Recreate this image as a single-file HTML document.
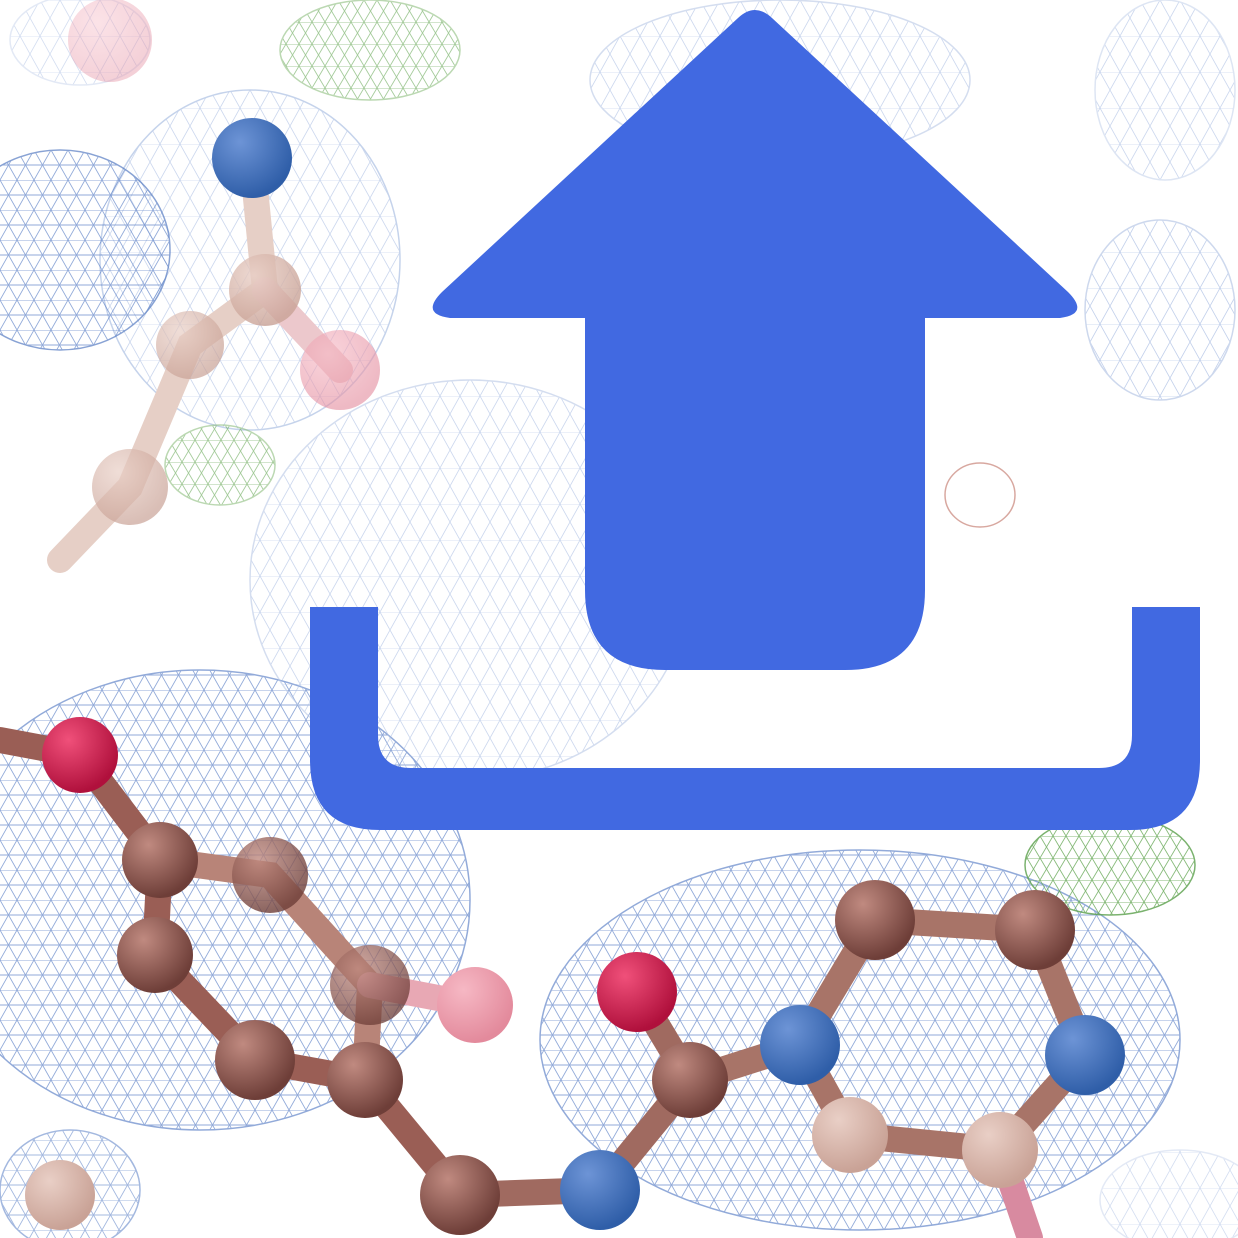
<!DOCTYPE html>
<html><head><meta charset="utf-8"><style>
html,body{margin:0;padding:0;background:#fff;}
svg{display:block;}
</style></head><body>
<svg width="1238" height="1238" viewBox="0 0 1238 1238">
<defs>
<pattern id="meshB" width="34" height="30" patternUnits="userSpaceOnUse">
 <path d="M0,0 L34,0 L17,30 Z M0,30 L17,0 M34,30 L17,0 M0,15 L34,15" fill="none" stroke="#4a73c0" stroke-width="0.9"/>
</pattern>
<pattern id="meshL" width="40" height="36" patternUnits="userSpaceOnUse">
 <path d="M0,0 L40,0 L20,36 Z M0,36 L20,0 M40,36 L20,0" fill="none" stroke="#a9bde3" stroke-width="0.8"/>
</pattern>
<pattern id="meshG" width="26" height="22" patternUnits="userSpaceOnUse">
 <path d="M0,0 L26,0 L13,22 Z M0,22 L13,0 M26,22 L13,0" fill="none" stroke="#6aaa5a" stroke-width="0.9"/>
</pattern>
<radialGradient id="gb" cx="35%" cy="30%" r="70%"><stop offset="0" stop-color="#c08a80"/><stop offset="1" stop-color="#6e3e38"/></radialGradient>
<radialGradient id="gbl" cx="35%" cy="30%" r="70%"><stop offset="0" stop-color="#e9cfc6"/><stop offset="1" stop-color="#c9a296"/></radialGradient>
<radialGradient id="gblue" cx="35%" cy="30%" r="70%"><stop offset="0" stop-color="#6d94d6"/><stop offset="1" stop-color="#2f5ea8"/></radialGradient>
<radialGradient id="gred" cx="35%" cy="30%" r="70%"><stop offset="0" stop-color="#f0507a"/><stop offset="1" stop-color="#b0103c"/></radialGradient>
<radialGradient id="gpink" cx="35%" cy="30%" r="70%"><stop offset="0" stop-color="#f6b8c4"/><stop offset="1" stop-color="#e38a9c"/></radialGradient>
</defs>
<g stroke-width="1.5">
 <ellipse cx="250" cy="260" rx="150" ry="170" fill="url(#meshL)" stroke="#9fb6df" opacity=".6"/>
 <ellipse cx="60" cy="250" rx="110" ry="100" fill="url(#meshB)" stroke="#3a66b8" opacity=".6"/>
 <ellipse cx="200" cy="900" rx="270" ry="230" fill="url(#meshB)" stroke="#4a73c0" opacity=".6"/>
 <ellipse cx="860" cy="1040" rx="320" ry="190" fill="url(#meshB)" stroke="#4a73c0" opacity=".6"/>
 <ellipse cx="470" cy="580" rx="220" ry="200" fill="url(#meshL)" stroke="#b8c8e6" opacity=".6"/>
 <ellipse cx="1160" cy="310" rx="75" ry="90" fill="url(#meshL)" stroke="#b8c8e6" opacity=".7"/>
 <ellipse cx="1165" cy="90" rx="70" ry="90" fill="url(#meshL)" stroke="#c8d4ec" opacity=".6"/>
 <ellipse cx="780" cy="80" rx="190" ry="80" fill="url(#meshL)" stroke="#b8c8e6" opacity=".6"/>
 <ellipse cx="80" cy="40" rx="70" ry="45" fill="url(#meshL)" stroke="#c8d4ec" opacity=".5"/>
 <ellipse cx="370" cy="50" rx="90" ry="50" fill="url(#meshG)" stroke="#8fbf7f" opacity=".6"/>
 <ellipse cx="220" cy="465" rx="55" ry="40" fill="url(#meshG)" stroke="#8fbf7f" opacity=".6"/>
 <ellipse cx="1110" cy="865" rx="85" ry="50" fill="url(#meshG)" stroke="#5aa04a" opacity=".8"/>
 <ellipse cx="980" cy="495" rx="35" ry="32" fill="none" stroke="#d8a8a0"/>
 <ellipse cx="70" cy="1190" rx="70" ry="60" fill="url(#meshB)" stroke="#4a73c0" opacity=".5"/>
 <ellipse cx="1180" cy="1200" rx="80" ry="50" fill="url(#meshL)" stroke="#c8d4ec" opacity=".5"/>
</g>
<g stroke-width="26" stroke-linecap="round" fill="none">
 <polyline points="252,158 265,290 190,345 130,487 60,560" stroke="#e6cfc6"/>
 <line x1="265" y1="290" x2="340" y2="370" stroke="#ecc8cc"/>
 <polyline points="0,740 80,755 160,860 155,955 255,1060 365,1080 460,1195" stroke="#9a5e55"/>
 <polyline points="160,860 270,875 370,985 365,1080" stroke="#b88478"/>
 <line x1="370" y1="985" x2="475" y2="1005" stroke="#e8a8b4"/>
 <polyline points="460,1195 600,1190 690,1080 637,992" stroke="#a06a60"/>
 <polyline points="690,1080 800,1045 875,920 1035,930 1085,1055 1000,1150 850,1135 800,1045" stroke="#a87468"/>
 <line x1="1000" y1="1150" x2="1030" y2="1238" stroke="#d88aa0"/>
</g>
<g>
 <circle cx="252" cy="158" r="40" fill="url(#gblue)"/>
 <circle cx="265" cy="290" r="36" fill="url(#gbl)" opacity=".8"/>
 <circle cx="340" cy="370" r="40" fill="url(#gpink)" opacity=".6"/>
 <circle cx="190" cy="345" r="34" fill="url(#gbl)" opacity=".7"/>
 <circle cx="130" cy="487" r="38" fill="url(#gbl)" opacity=".7"/>
 <circle cx="80" cy="755" r="38" fill="url(#gred)"/>
 <circle cx="160" cy="860" r="38" fill="url(#gb)"/>
 <circle cx="270" cy="875" r="38" fill="url(#gb)" opacity=".8"/>
 <circle cx="155" cy="955" r="38" fill="url(#gb)"/>
 <circle cx="370" cy="985" r="40" fill="url(#gb)" opacity=".75"/>
 <circle cx="475" cy="1005" r="38" fill="url(#gpink)"/>
 <circle cx="255" cy="1060" r="40" fill="url(#gb)"/>
 <circle cx="365" cy="1080" r="38" fill="url(#gb)"/>
 <circle cx="460" cy="1195" r="40" fill="url(#gb)"/>
 <circle cx="600" cy="1190" r="40" fill="url(#gblue)"/>
 <circle cx="637" cy="992" r="40" fill="url(#gred)"/>
 <circle cx="690" cy="1080" r="38" fill="url(#gb)"/>
 <circle cx="800" cy="1045" r="40" fill="url(#gblue)"/>
 <circle cx="875" cy="920" r="40" fill="url(#gb)"/>
 <circle cx="1035" cy="930" r="40" fill="url(#gb)"/>
 <circle cx="1085" cy="1055" r="40" fill="url(#gblue)"/>
 <circle cx="1000" cy="1150" r="38" fill="url(#gbl)"/>
 <circle cx="850" cy="1135" r="38" fill="url(#gbl)"/>
 <circle cx="60" cy="1195" r="35" fill="url(#gbl)"/>
 <circle cx="110" cy="40" r="42" fill="url(#gpink)" opacity=".4"/>
</g>
<g fill="#4169e1">
 <path d="M738,18 Q755,2 772,18 L1068,292 Q1090,314 1060,318 L925,318 L925,590 Q925,670 845,670 L665,670 Q585,670 585,590 L585,318 L450,318 Q420,314 442,292 Z"/>
 <path d="M310,607 L378,607 L378,735 Q378,768 411,768 L1099,768 Q1132,768 1132,735 L1132,607 L1200,607 L1200,760 Q1200,830 1130,830 L380,830 Q310,830 310,760 Z"/>
</g>
</svg>
</body></html>
